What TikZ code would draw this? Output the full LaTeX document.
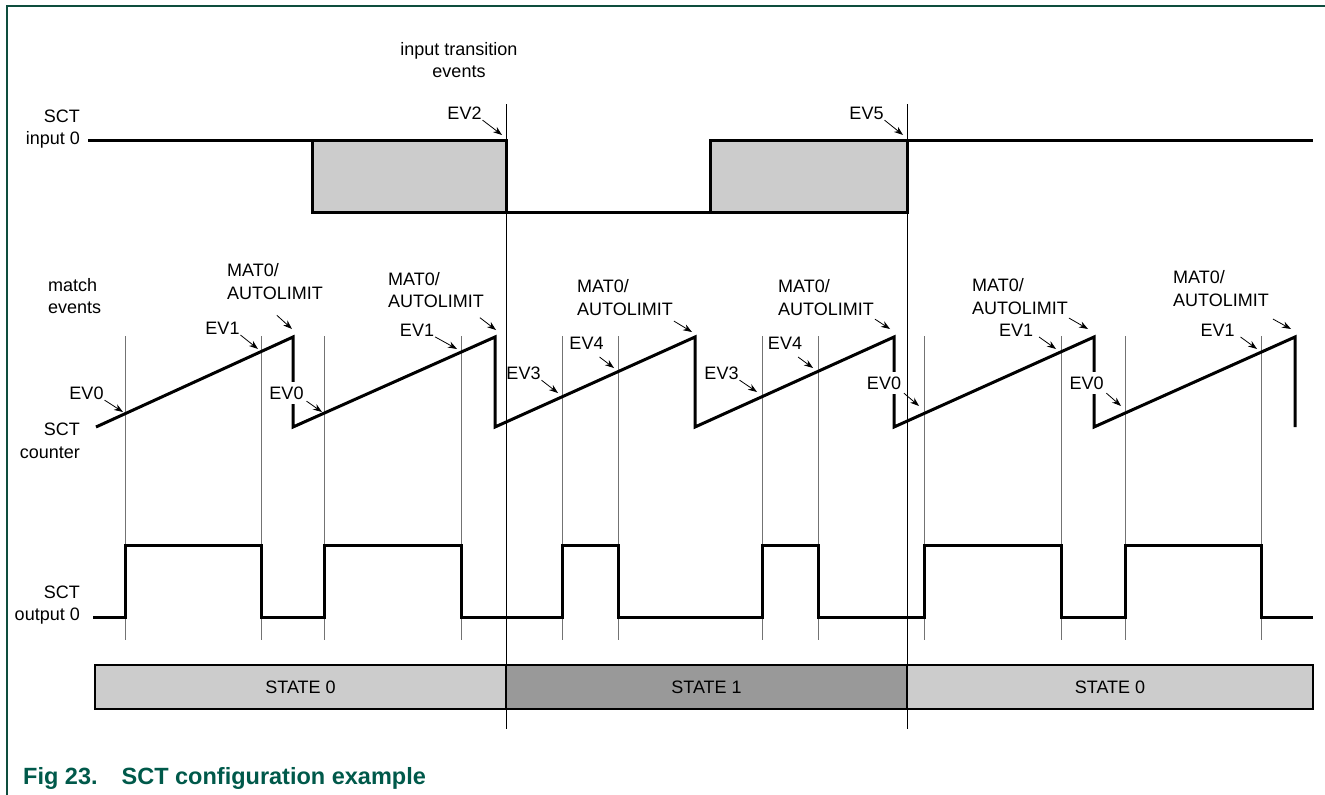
\documentclass[tikz,border=0pt]{standalone}
\usepackage{fontspec}
\setmainfont{Liberation Sans}
\usetikzlibrary{arrows.meta,positioning}
\definecolor{lightgr}{HTML}{CCCCCC}
\definecolor{darkgr}{HTML}{999999}
\definecolor{capgreen}{HTML}{00594A}
\definecolor{framegreen}{HTML}{0E4D3E}

\begin{document}
\begin{tikzpicture}[x=1pt, y=-1pt,
      every node/.style={inner sep=0pt, font=\fontsize{18}{22.5}\selectfont},
      sig/.style={line width=3pt, line join=miter, black},
      evline/.style={line width=0.8pt, black!55},
      stline/.style={line width=0.9pt, black},
      ptr/.style={-{Stealth[length=9pt, width=6.5pt]}, line width=0.8pt, shorten <=1pt},
      lab/.style={align=right, anchor=east},
      matlab/.style={align=left, anchor=west},
      gaplab/.style={fill=white, inner ysep=5pt},
      statebox/.style={draw, line width=2.4pt, minimum height=44pt}
  ]
      \useasboundingbox (0,0) rectangle (1325,795);
      \draw[line width=2pt, framegreen] (7,795) -- (7,6) -- (1325,6);

      % event and state lines
      \foreach \x in {125,261,324,461,562,618,762,818,924,1061,1125,1261}
        \draw[evline] (\x,336) -- (\x,640);
      \foreach \x in {506,907}
        \draw[stline] (\x,104) -- (\x,729);

      % SCT input 0
      \draw[sig] (88,140) -- (312,140);
      \draw[sig, fill=lightgr] (312,140) rectangle (506,212);
      \draw[sig] (506,212) -- (710,212);
      \draw[sig, fill=lightgr] (710,140) rectangle (907,212);
      \draw[sig] (907,140) -- (1313,140);

      % SCT counter
      \draw[sig] (96,427) foreach \p in {293,495,695,894,1094,1295} { -- (\p,337) -- (\p,427) };

      % SCT output 0
      \draw[sig] (93,617) foreach \a/\b in {125/261,324/461,562/618,762/818,924/1061,1125/1261}
        { -- (\a,617) -- (\a,545) -- (\b,545) -- (\b,617) } -- (1313,617);

      % states
      \node[statebox, fill=lightgr, minimum width=411pt] (st0a) at (300.5,687) {STATE 0};
      \node[statebox, fill=darkgr, minimum width=401pt] (st1) at (706.5,687) {STATE 1};
      \node[statebox, fill=lightgr, minimum width=406pt] (st0b) at (1110,687) {STATE 0};

      % signal names
      \node[lab] (in0) at (80,129) {SCT\\input 0};
      \node[lab] (cnt) at (80,441) {SCT\\counter};
      \node[lab] (out0) at (80,605) {SCT\\output 0};
      \node[align=left, anchor=west] (mev) at (48,296) {match\\events};
      \node[align=center] (itev) at (459,60) {input transition\\events};

      % input transition events
      \node (ev2) at (464.5,113) {EV2};
      \node (ev5) at (866.5,113) {EV5};
      \coordinate (x2) at (502,135);
      \coordinate (x5) at (903,135);
      \draw[ptr] (ev2.south east) -- (x2);
      \draw[ptr] (ev5.south east) -- (x5);

      % match events
      \node (ev0a) at (86.5,393) {EV0};
      \node (ev1a) at (222.5,328) {EV1};
      \node[matlab] (mata) at (227,281.5) {MAT0/\\AUTOLIMIT};
      \node[gaplab] (ev0b) at (286.5,393) {EV0};
      \node[matlab] (matb) at (388,290) {MAT0/\\AUTOLIMIT};
      \node (ev1b) at (417,330) {EV1};
      \node (ev3a) at (523.5,373) {EV3};
      \node (ev4a) at (586.5,343) {EV4};
      \node[matlab] (matc) at (577,297.5) {MAT0/\\AUTOLIMIT};
      \node (ev3b) at (721.5,373) {EV3};
      \node (ev4b) at (785,343) {EV4};
      \node[matlab] (matd) at (778,297.5) {MAT0/\\AUTOLIMIT};
      \node[gaplab] (ev0c) at (884,383) {EV0};
      \node[matlab] (mate) at (972,296.5) {MAT0/\\AUTOLIMIT};
      \node (ev1c) at (1016,330) {EV1};
      \node[gaplab] (ev0d) at (1086.5,383) {EV0};
      \node[matlab] (matf) at (1173,288.5) {MAT0/\\AUTOLIMIT};
      \node (ev1d) at (1217.5,330) {EV1};

      \coordinate (p0a) at (123,412);
      \coordinate (p1a) at (258,349);
      \coordinate (pka) at (292,329);
      \coordinate (p0b) at (322,412);
      \coordinate (pkb) at (496,330);
      \coordinate (p1b) at (457,349);
      \coordinate (p3a) at (558,393);
      \coordinate (p4a) at (614,368);
      \coordinate (pkc) at (692,332);
      \coordinate (p3b) at (757,392);
      \coordinate (p4b) at (813,368);
      \coordinate (pkd) at (890,329);
      \coordinate (p0c) at (919,406);
      \coordinate (pke) at (1088,329);
      \coordinate (p1c) at (1056,349);
      \coordinate (p0d) at (1121,406);
      \coordinate (pkf) at (1291,329);
      \coordinate (p1d) at (1257,349);

      \draw[ptr] (ev0a.south east) -- (p0a);
      \draw[ptr] (ev1a.south east) -- (p1a);
      \draw[ptr] ([shift={(1,15)}]mata.south) -- (pka);
      \draw[ptr] ([shift={(2,-4)}]ev0b.south east) -- (p0b);
      \draw[ptr] ([shift={(-5,9)}]matb.south east) -- (pkb);
      \draw[ptr] (ev1b.south east) -- (p1b);
      \draw[ptr] (ev3a.south east) -- (p3a);
      \draw[ptr] ([shift={(-5,7)}]ev4a.south east) -- (p4a);
      \draw[ptr] ([shift={(0,5)}]matc.south east) -- (pkc);
      \draw[ptr] (ev3b.south east) -- (p3b);
      \draw[ptr] ([shift={(-5,7)}]ev4b.south east) -- (p4b);
      \draw[ptr] ([shift={(0,3)}]matd.south east) -- (pkd);
      \draw[ptr] ([shift={(2,-2)}]ev0c.south east) -- (p0c);
      \draw[ptr] ([shift={(0,3)}]mate.south east) -- (pke);
      \draw[ptr] ([shift={(5,0)}]ev1c.south east) -- (p1c);
      \draw[ptr] ([shift={(2,-2)}]ev0d.south east) -- (p0d);
      \draw[ptr] ([shift={(3,12)}]matf.south east) -- (pkf);
      \draw[ptr] ([shift={(5,0)}]ev1d.south east) -- (p1d);

      \node[anchor=base west, font=\fontsize{23.5}{28}\selectfont\bfseries, text=capgreen] (cap) at (23,784)
        {Fig 23.\hspace{24pt}SCT configuration example};
  \end{tikzpicture}
\end{document}
